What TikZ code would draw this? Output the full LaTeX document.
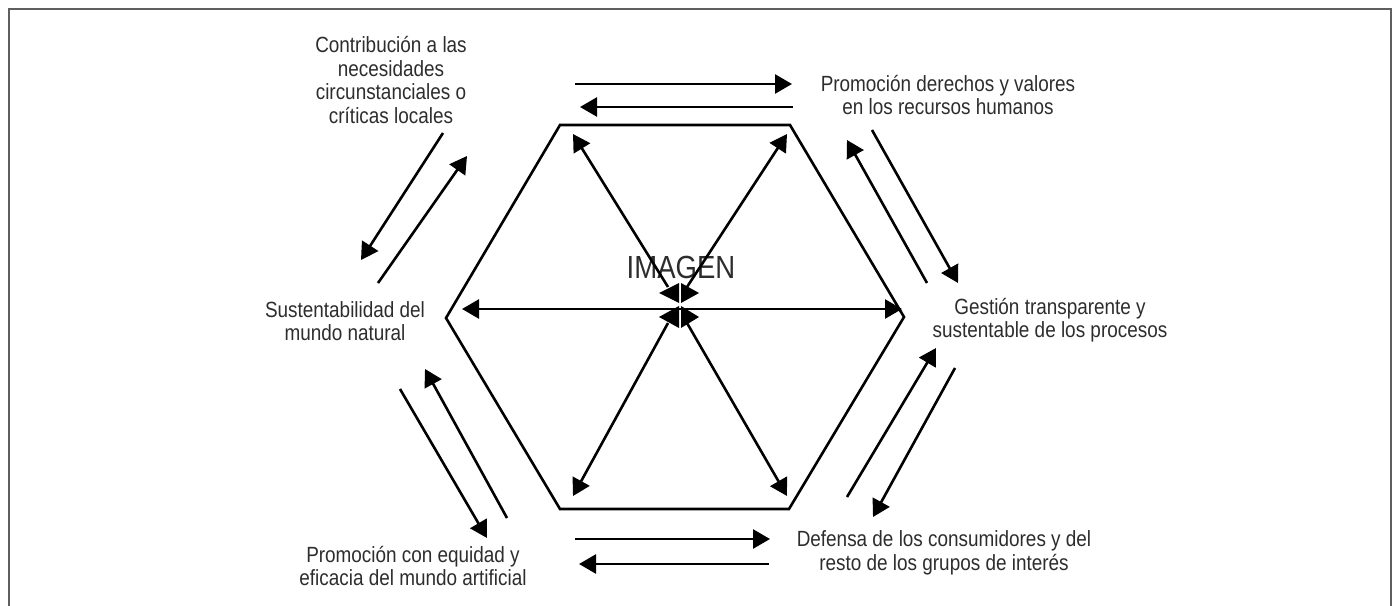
\documentclass[tikz,border=0pt]{standalone}
\usepackage{fontspec}
\setmainfont[FakeStretch=0.86]{Liberation Sans}
\usetikzlibrary{arrows.meta}
\definecolor{txt}{RGB}{45,45,45}
\definecolor{framec}{RGB}{95,95,95}
\begin{document}
\begin{tikzpicture}[x=1pt,y=-1pt,
  ln/.style={line width=2.6pt},
  arr/.style={ln,-{Triangle[length=17pt,width=19pt]}},
  darr/.style={ln,{Triangle[length=17pt,width=19pt]}-{Triangle[length=17pt,width=19pt]}},
  lbl/.style={font=\fontsize{22}{23.6}\selectfont, text=txt, align=center, inner sep=0pt},
  tri/.style={fill=black, draw=none}]
\useasboundingbox (0,0) rectangle (1396,605);
% frame
\draw[framec, line width=2pt] (9,620) -- (9,9) -- (1391,9) -- (1391,620);
% hexagon
\coordinate (h1) at (560,125);
\coordinate (h2) at (790,125);
\coordinate (h3) at (904,317);
\coordinate (h4) at (789,509);
\coordinate (h5) at (560,509);
\coordinate (h6) at (446,318);
\draw[ln, line join=miter] (h1) -- (h2) -- (h3) -- (h4) -- (h5) -- (h6) -- cycle;
% labels
\node[lbl] (contrib) at (391,80) {Contribución a las\\necesidades\\circunstanciales o\\críticas locales};
\node[lbl] (promder) at (948,95) {Promoción derechos y valores\\en los recursos humanos};
\node[lbl] (gestion) at (1050,320) {Gestión transparente y\\sustentable de los procesos};
\node[lbl] (defensa) at (944,553) {Defensa de los consumidores y del\\resto de los grupos de interés};
\node[lbl] (promeq) at (413,566) {Promoción con equidad y\\eficacia del mundo artificial};
\node[lbl] (sust) at (345,321) {Sustentabilidad del\\mundo natural};
\node[lbl, font=\fontsize{32}{36}\selectfont] (imagen) at (681,267) {IMAGEN};
% centre arrows
\coordinate (cl) at (462,309);
\coordinate (cr) at (902,309);
\draw[darr] (cl) -- (cr);
\coordinate (ula) at (668,287); \coordinate (ulb) at (573,134);
\coordinate (ura) at (687,287); \coordinate (urb) at (787,134);
\coordinate (lla) at (668,323); \coordinate (llb) at (573,496);
\coordinate (lra) at (687,323); \coordinate (lrb) at (787,496);
\draw[arr] (ula) -- (ulb);
\draw[arr] (ura) -- (urb);
\draw[arr] (lla) -- (llb);
\draw[arr] (lra) -- (lrb);
\fill[tri] (679,283) -- (679,303) -- (659,293) -- cycle;
\fill[tri] (681,283) -- (681,303) -- (699,293) -- cycle;
\fill[tri] (679,306) -- (679,328) -- (659,317) -- cycle;
\fill[tri] (681,306) -- (681,328) -- (699,317) -- cycle;
% outer arrows: top
\coordinate (t1a) at (575,84); \coordinate (t1b) at (792,84);
\coordinate (t2a) at (793,107); \coordinate (t2b) at (580,107);
\draw[arr] (t1a) -- (t1b);
\draw[arr] (t2a) -- (t2b);
% upper right
\coordinate (r1a) at (927,283); \coordinate (r1b) at (847,140);
\coordinate (r2a) at (872,130); \coordinate (r2b) at (958,283);
\draw[arr] (r1a) -- (r1b);
\draw[arr] (r2a) -- (r2b);
% lower right
\coordinate (r3a) at (847,497); \coordinate (r3b) at (936,348);
\coordinate (r4a) at (955,368); \coordinate (r4b) at (873,517);
\draw[arr] (r3a) -- (r3b);
\draw[arr] (r4a) -- (r4b);
% bottom
\coordinate (b1a) at (575,539); \coordinate (b1b) at (770,539);
\coordinate (b2a) at (769,564); \coordinate (b2b) at (579,564);
\draw[arr] (b1a) -- (b1b);
\draw[arr] (b2a) -- (b2b);
% lower left
\coordinate (l1a) at (400,389); \coordinate (l1b) at (487,538);
\coordinate (l2a) at (507,518); \coordinate (l2b) at (425,369);
\draw[arr] (l1a) -- (l1b);
\draw[arr] (l2a) -- (l2b);
% upper left
\coordinate (l3a) at (443,133); \coordinate (l3b) at (361,260);
\coordinate (l4a) at (378,283); \coordinate (l4b) at (467,156);
\draw[arr] (l3a) -- (l3b);
\draw[arr] (l4a) -- (l4b);
\end{tikzpicture}
\end{document}
